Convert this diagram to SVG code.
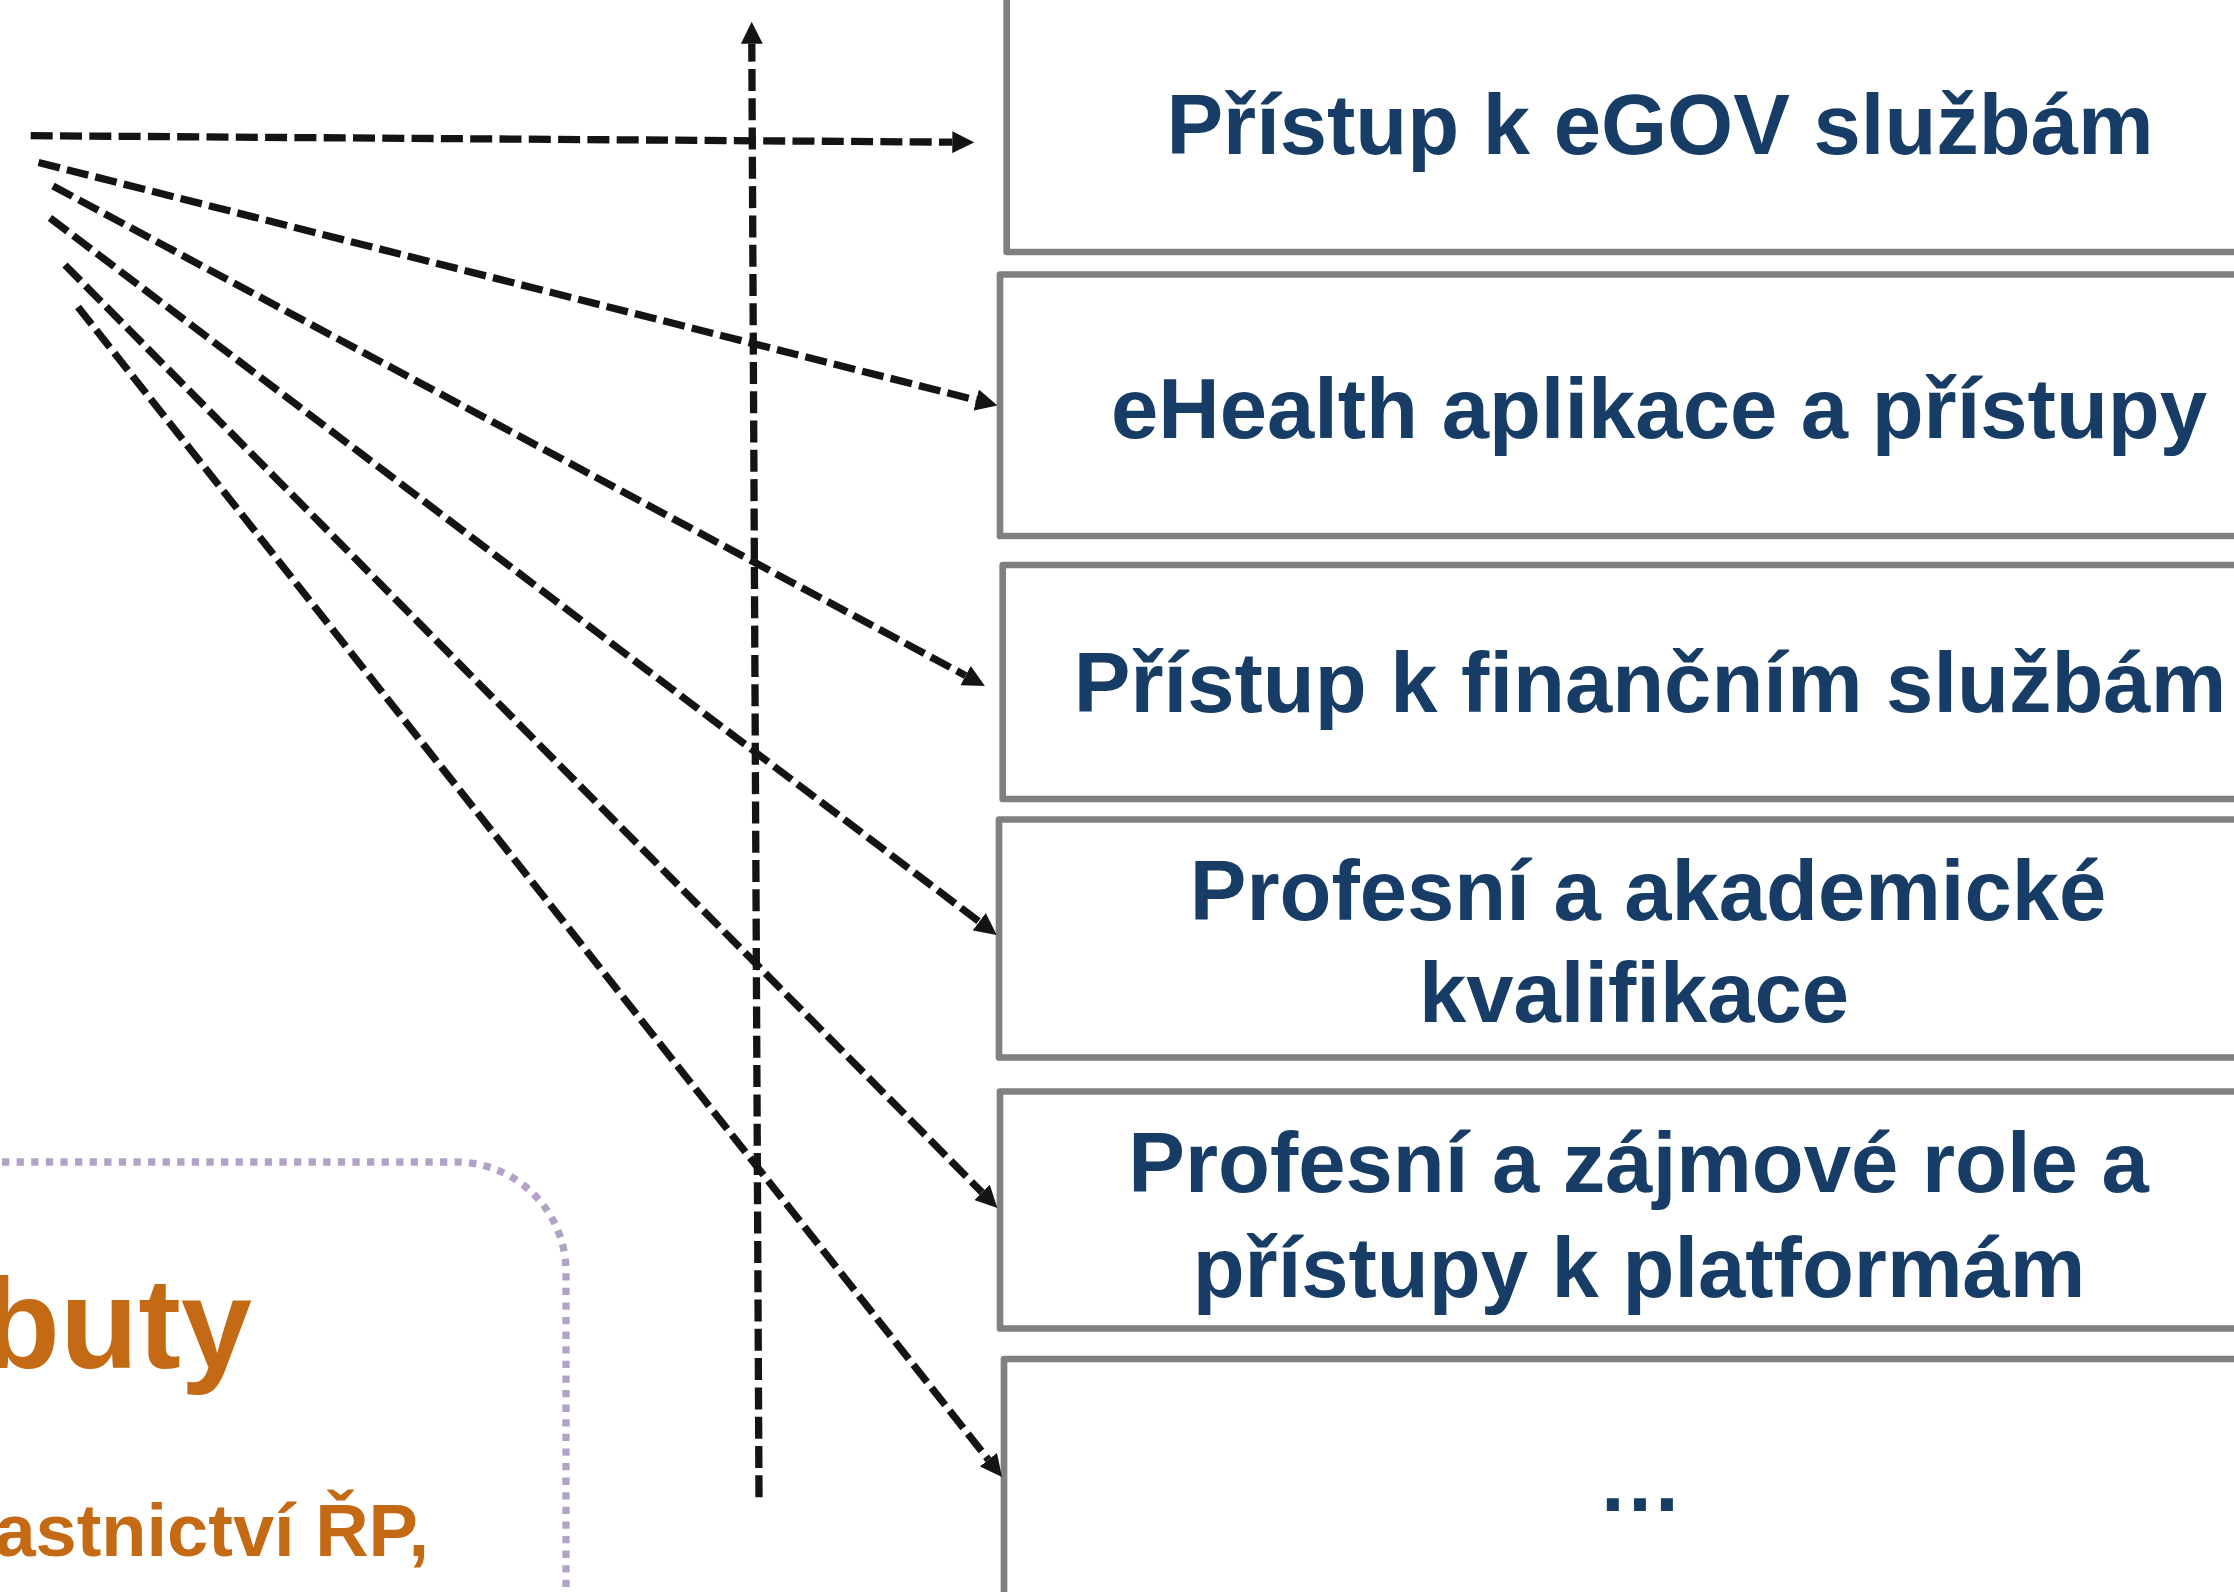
<svg xmlns="http://www.w3.org/2000/svg" width="2234" height="1592" viewBox="0 0 2234 1592">
<defs>
<style>
.box{fill:#ffffff;stroke:#808080;stroke-width:6.7;stroke-linejoin:round}
.lbl{font-family:"Liberation Sans",Arial,sans-serif;font-weight:bold;font-size:85px;fill:#173d66;text-anchor:middle}
.attr{font-family:"Liberation Sans",Arial,sans-serif;font-weight:bold;fill:#c46a14}
.con{fill:none;stroke:#141414;stroke-width:7.3;stroke-dasharray:22 7.3;stroke-linecap:butt}
.arr{marker-end:url(#ah)}
.frame{fill:#ffffff;stroke:#b3a2c7;stroke-width:7.3;stroke-dasharray:7.3 7.3}
</style>
<marker id="ah" viewBox="0 0 3 3" refX="0" refY="1.5" markerWidth="3" markerHeight="3" markerUnits="strokeWidth" orient="auto">
<path d="M0,0 L3,1.5 L0,3 z" fill="#141414"/>
</marker>
</defs>
<rect width="2234" height="1592" fill="#ffffff"/>

<g id="attributes">
<rect class="frame" x="-400" y="1162" width="966" height="600" rx="110" ry="110"/>
<text class="attr" x="252" y="1368" font-size="128" text-anchor="end">buty</text>
<text class="attr" x="429" y="1556" font-size="74" text-anchor="end">astnictví ŘP,</text>
</g>

<g id="n1">
<rect class="box" x="1006.7" y="-20" width="1300" height="272"/>
<text class="lbl" x="1660" y="154">Přístup k eGOV službám</text>
</g>
<g id="n2">
<rect class="box" x="1000" y="274.5" width="1300" height="261.5"/>
<text class="lbl" x="1659" y="438">eHealth aplikace a přístupy</text>
</g>
<g id="n3">
<rect class="box" x="1002.7" y="565" width="1300" height="234"/>
<text class="lbl" x="1650" y="712">Přístup k finančním službám</text>
</g>
<g id="n4">
<rect class="box" x="999" y="819.5" width="1300" height="238"/>
<text class="lbl" x="1648" y="920">Profesní a akademické</text>
<text class="lbl" x="1634" y="1022">kvalifikace</text>
</g>
<g id="n5">
<rect class="box" x="1000" y="1091.5" width="1300" height="237"/>
<text class="lbl" x="1638.5" y="1192">Profesní a zájmové role a</text>
<text class="lbl" x="1639" y="1297">přístupy k platformám</text>
</g>
<g id="n6">
<rect class="box" x="1004" y="1359" width="1300" height="300"/>
<text class="lbl" x="1640" y="1511">…</text>
</g>

<g id="connectors">
<line class="con arr" x1="30.7" y1="135.7" x2="952.3" y2="142.15"/>
<line class="con arr" x1="38.5" y1="162.5" x2="976.2" y2="400.1"/>
<line class="con arr" x1="53" y1="186" x2="965.6" y2="675.6"/>
<line class="con arr" x1="50" y1="218" x2="979.2" y2="921.7"/>
<line class="con arr" x1="65" y1="265" x2="982" y2="1192.4"/>
<line class="con arr" x1="78" y1="307" x2="988.4" y2="1459.7"/>
<line class="con arr" x1="759" y1="1497.3" x2="751.8" y2="43.7"/>
</g>
</svg>
